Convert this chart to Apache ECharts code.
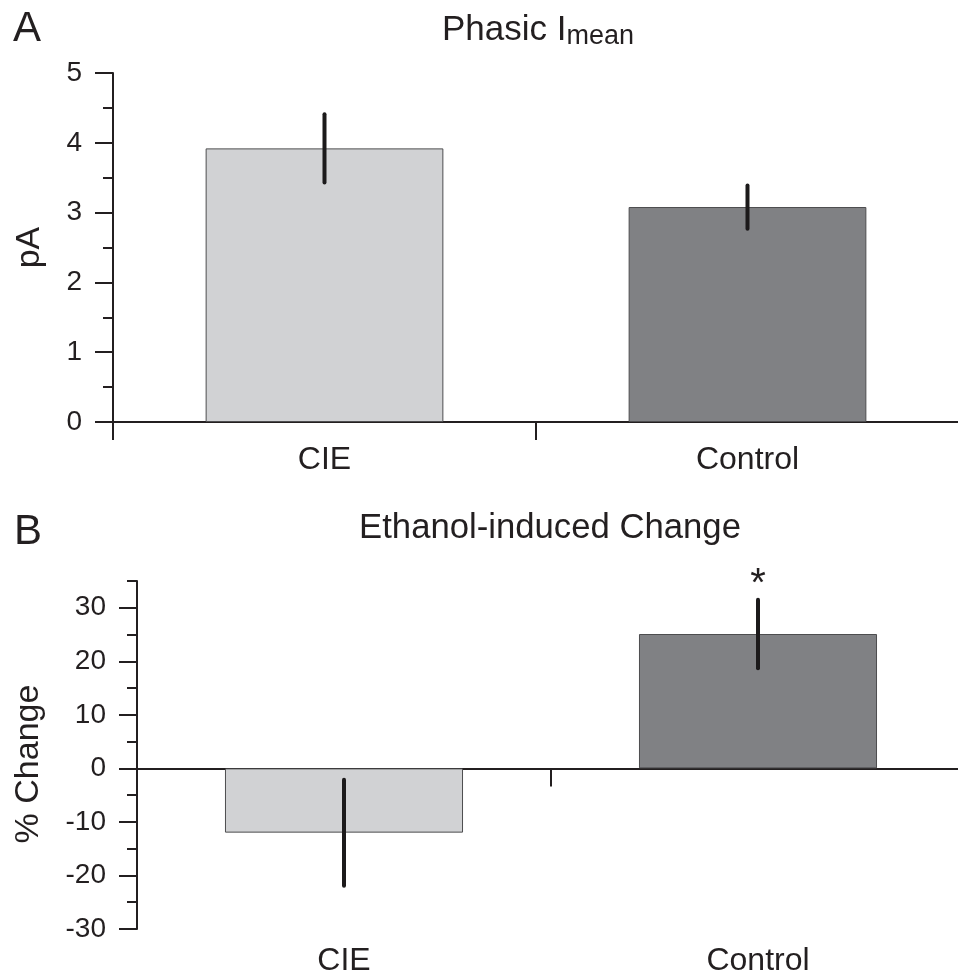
<!DOCTYPE html>
<html>
<head>
<meta charset="utf-8">
<script src="https://cdn.jsdelivr.net/npm/echarts@6/dist/echarts.min.js"></script>
<style>
html,body{margin:0;padding:0;background:#fff;}
#chart{width:958px;height:973px;}
</style>
</head>
<body>
<div id="chart"></div>
<script>
// ---- data ----
const categories = ['CIE', 'Control'];
const phasicMean = [3.92, 3.08];
const phasicErr = [0.49, 0.31];
const changeMean = [-12.0, 25.1];
const changeErr = [9.9, 6.4];
const changeSig = ['', '*'];
const ticksA = [0, 1, 2, 3, 4, 5];
const ticksB = [-30, -20, -10, 0, 10, 20, 30];

const FONT = "'Liberation Sans', Arial, Helvetica, sans-serif";
const INK = '#231f20';
const barColors = ['#d1d2d4', '#808184'];

const chart = echarts.init(document.getElementById('chart'), null, {renderer: 'canvas'});

function errRender(sig) {
  return function (params, api) {
    const x = api.value(0), m = api.value(1), e = api.value(2);
    const p1 = api.coord([x, m + e]);
    const p2 = api.coord([x, m - e]);
    const children = [{
      type: 'line',
      shape: {x1: p1[0], y1: p1[1], x2: p2[0], y2: p2[1]},
      style: {stroke: '#1c1a1b', lineWidth: 4, lineCap: 'round'}
    }];
    if (sig && sig[params.dataIndex]) {
      children.push({
        type: 'text',
        x: p1[0], y: p1[1] + 5,
        style: {text: sig[params.dataIndex], font: '40px ' + FONT, fill: INK, align: 'center', verticalAlign: 'bottom'}
      });
    }
    return {type: 'group', children: children};
  };
}

const axisLine = {show: true, lineStyle: {color: INK, width: 2}};
const tickStyle = {color: INK, width: 2};

const option = {
  animation: false,
  backgroundColor: '#fff',
  textStyle: {fontFamily: FONT, color: INK},
  title: [
    {text: 'A', left: 8, top: 3, textStyle: {fontSize: 42, fontWeight: 'normal', color: INK, fontFamily: FONT}},
    {text: 'B', left: 9, top: 506, textStyle: {fontSize: 42, fontWeight: 'normal', color: INK, fontFamily: FONT}},
    {
      text: '{a|Phasic I}{b|mean}', left: 533, top: 5, textAlign: 'center',
      textStyle: {
        fontWeight: 'normal', fontFamily: FONT, color: INK,
        rich: {
          a: {fontSize: 35, lineHeight: 40, fontFamily: FONT, color: INK},
          b: {fontSize: 27, lineHeight: 30, verticalAlign: 'bottom', fontFamily: FONT, color: INK}
        }
      }
    },
    {text: 'Ethanol-induced Change', left: 545, top: 506, textAlign: 'center',
     textStyle: {fontSize: 34.7, fontWeight: 'normal', color: INK, fontFamily: FONT}}
  ],
  grid: [
    {left: 113, top: 73, width: 846, height: 349, containLabel: false, outerBoundsMode: 'none'},
    {left: 137, top: 581, width: 828, height: 348, containLabel: false, outerBoundsMode: 'none'}
  ],
  xAxis: [
    {
      type: 'category', gridIndex: 0, data: categories, boundaryGap: true,
      axisLine: axisLine,
      axisTick: {show: true, length: 18, lineStyle: tickStyle, alignWithLabel: false},
      axisLabel: {fontSize: 32, color: INK, margin: 22, fontFamily: FONT},
      splitLine: {show: false}
    },
    {
      type: 'category', gridIndex: 1, data: categories, boundaryGap: true,
      axisLine: {show: true, onZero: true, lineStyle: {color: INK, width: 2}},
      axisTick: {show: true, length: 18, lineStyle: tickStyle},
      axisLabel: {show: false},
      splitLine: {show: false}
    },
    {
      type: 'category', gridIndex: 1, data: categories, boundaryGap: true, position: 'bottom',
      axisLine: {show: false, onZero: false},
      axisTick: {show: false},
      axisLabel: {fontSize: 32, color: INK, margin: 16, fontFamily: FONT},
      splitLine: {show: false}
    }
  ],
  yAxis: [
    {
      type: 'value', gridIndex: 0, min: ticksA[0], max: ticksA[ticksA.length - 1], interval: 1,
      axisLine: axisLine,
      axisTick: {show: true, length: 18, lineStyle: tickStyle},
      minorTick: {show: true, splitNumber: 2, length: 10, lineStyle: tickStyle},
      axisLabel: {fontSize: 28, color: INK, margin: 31, fontFamily: FONT},
      splitLine: {show: false},
      name: 'pA', nameLocation: 'middle', nameGap: 66,
      nameTextStyle: {fontSize: 34, color: INK, fontFamily: FONT}
    },
    {
      type: 'value', gridIndex: 1, min: ticksB[0], max: 35, interval: 5, position: 'left',
      axisLine: {show: true, onZero: false, lineStyle: {color: INK, width: 2}},
      axisTick: {show: true, length: 10, lineStyle: tickStyle},
      axisLabel: {fontSize: 28, color: INK, margin: 31, fontFamily: FONT, customValues: ticksB},
      splitLine: {show: false},
      name: '% Change', nameLocation: 'middle', nameGap: 91,
      nameTextStyle: {fontSize: 34, color: INK, fontFamily: FONT, padding: [0, 18, 0, 0]}
    },
    {
      type: 'value', gridIndex: 1, min: ticksB[0], max: 35, interval: 5, position: 'left', offset: 0,
      axisLine: {show: false, onZero: false},
      axisTick: {show: true, length: 18, lineStyle: tickStyle, customValues: ticksB},
      axisLabel: {show: false},
      splitLine: {show: false}
    }
  ],
  series: [
    {
      type: 'bar', xAxisIndex: 0, yAxisIndex: 0, barWidth: '56.2%',
      data: phasicMean.map((v, i) => ({value: v, itemStyle: {color: barColors[i]}})),
      itemStyle: {borderColor: '#4d4d4f', borderWidth: 1},
      z: 2
    },
    {
      type: 'custom', xAxisIndex: 0, yAxisIndex: 0,
      data: phasicMean.map((v, i) => [i, v, phasicErr[i]]),
      encode: {x: 0, y: 1},
      renderItem: errRender(null), z: 5
    },
    {
      type: 'bar', xAxisIndex: 1, yAxisIndex: 1, barWidth: '57.5%',
      data: changeMean.map((v, i) => ({value: v, itemStyle: {color: barColors[i]}})),
      itemStyle: {borderColor: '#4d4d4f', borderWidth: 1},
      z: 2
    },
    {
      type: 'custom', xAxisIndex: 1, yAxisIndex: 1,
      data: changeMean.map((v, i) => [i, v, changeErr[i]]),
      encode: {x: 0, y: 1},
      renderItem: errRender(changeSig), z: 5
    }
  ]
};
chart.setOption(option);
</script>
</body>
</html>
